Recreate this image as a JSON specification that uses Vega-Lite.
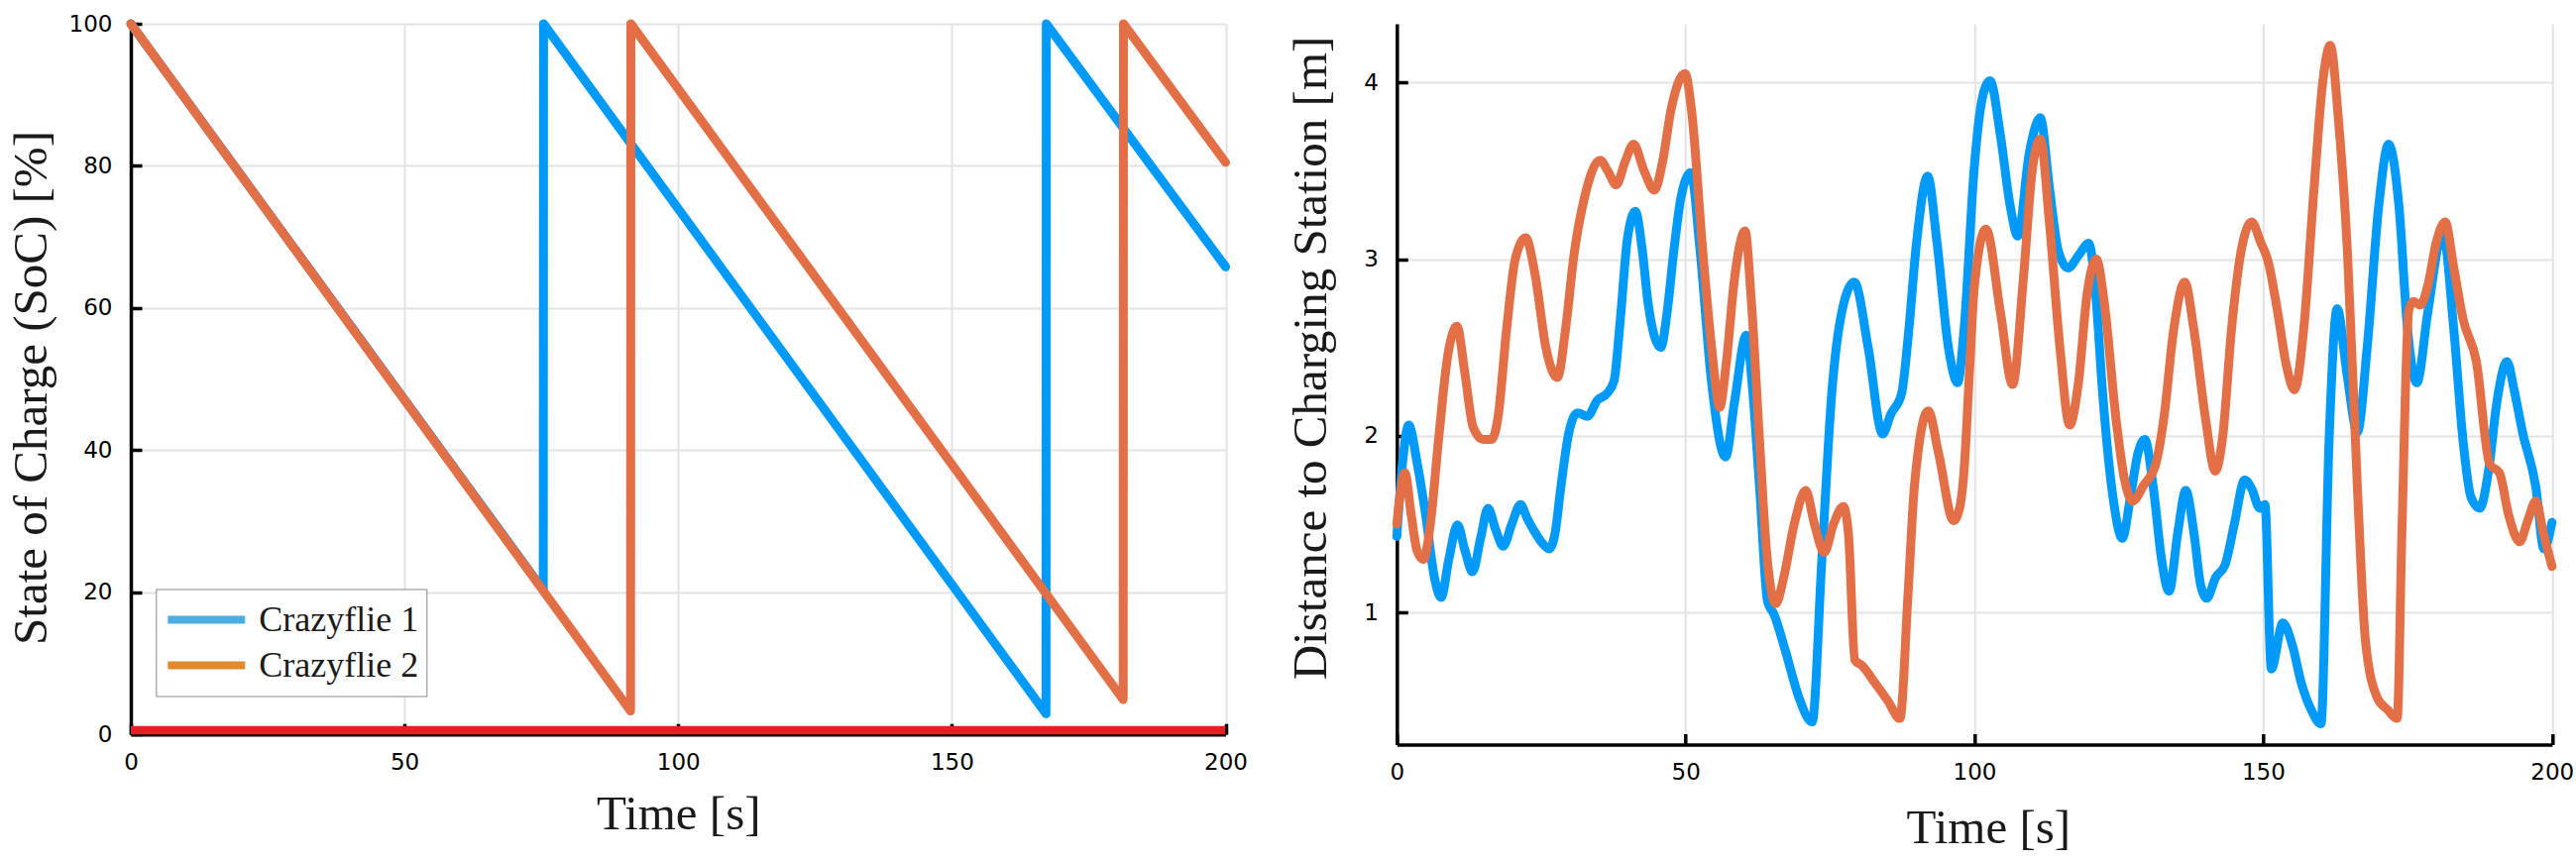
{
  "$schema": "https://vega.github.io/schema/vega-lite/v6.json",
  "padding": {"left": 6, "top": 13, "right": 0, "bottom": 0},
  "spacing": 172.3,
  "bounds": "flush",
  "background": "white",
  "datasets": {
    "thr": [{"soc": 0}],
    "soc": [
      {"t": 0, "soc": 100, "drone": "Crazyflie 1"},
      {"t": 75.35, "soc": 20.3, "drone": "Crazyflie 1"},
      {"t": 75.4, "soc": 100, "drone": "Crazyflie 1"},
      {"t": 167.2, "soc": 2.9, "drone": "Crazyflie 1"},
      {"t": 167.25, "soc": 100, "drone": "Crazyflie 1"},
      {"t": 200, "soc": 65.8, "drone": "Crazyflie 1"},
      {"t": 0, "soc": 100, "drone": "Crazyflie 2"},
      {"t": 91.3, "soc": 3.3, "drone": "Crazyflie 2"},
      {"t": 91.35, "soc": 100, "drone": "Crazyflie 2"},
      {"t": 181.3, "soc": 4.9, "drone": "Crazyflie 2"},
      {"t": 181.35, "soc": 100, "drone": "Crazyflie 2"},
      {"t": 200, "soc": 80.5, "drone": "Crazyflie 2"}
    ],
    "dist": [
      {"t": 0, "d": 1.43, "drone": "Crazyflie 1"},
      {"t": 1.0, "d": 1.85, "drone": "Crazyflie 1"},
      {"t": 2.06, "d": 2.06, "drone": "Crazyflie 1"},
      {"t": 3.5, "d": 1.85, "drone": "Crazyflie 1"},
      {"t": 5.0, "d": 1.55, "drone": "Crazyflie 1"},
      {"t": 6.5, "d": 1.2, "drone": "Crazyflie 1"},
      {"t": 7.67, "d": 1.085, "drone": "Crazyflie 1"},
      {"t": 9.0, "d": 1.3, "drone": "Crazyflie 1"},
      {"t": 10.5, "d": 1.495, "drone": "Crazyflie 1"},
      {"t": 11.8, "d": 1.35, "drone": "Crazyflie 1"},
      {"t": 13.1, "d": 1.23, "drone": "Crazyflie 1"},
      {"t": 14.5, "d": 1.42, "drone": "Crazyflie 1"},
      {"t": 15.8, "d": 1.59, "drone": "Crazyflie 1"},
      {"t": 17.1, "d": 1.47, "drone": "Crazyflie 1"},
      {"t": 18.4, "d": 1.375, "drone": "Crazyflie 1"},
      {"t": 19.9, "d": 1.5, "drone": "Crazyflie 1"},
      {"t": 21.4, "d": 1.61, "drone": "Crazyflie 1"},
      {"t": 22.6, "d": 1.53, "drone": "Crazyflie 1"},
      {"t": 23.8, "d": 1.46, "drone": "Crazyflie 1"},
      {"t": 25.0, "d": 1.4, "drone": "Crazyflie 1"},
      {"t": 26.4, "d": 1.36, "drone": "Crazyflie 1"},
      {"t": 27.4, "d": 1.45, "drone": "Crazyflie 1"},
      {"t": 28.4, "d": 1.71, "drone": "Crazyflie 1"},
      {"t": 29.8, "d": 2.02, "drone": "Crazyflie 1"},
      {"t": 31.3, "d": 2.13, "drone": "Crazyflie 1"},
      {"t": 33.0, "d": 2.11, "drone": "Crazyflie 1"},
      {"t": 34.7, "d": 2.2, "drone": "Crazyflie 1"},
      {"t": 36.4, "d": 2.24, "drone": "Crazyflie 1"},
      {"t": 37.6, "d": 2.31, "drone": "Crazyflie 1"},
      {"t": 38.7, "d": 2.66, "drone": "Crazyflie 1"},
      {"t": 39.9, "d": 3.11, "drone": "Crazyflie 1"},
      {"t": 41.3, "d": 3.27, "drone": "Crazyflie 1"},
      {"t": 42.5, "d": 3.05, "drone": "Crazyflie 1"},
      {"t": 43.5, "d": 2.75, "drone": "Crazyflie 1"},
      {"t": 45.7, "d": 2.5, "drone": "Crazyflie 1"},
      {"t": 46.8, "d": 2.7, "drone": "Crazyflie 1"},
      {"t": 47.9, "d": 3.03, "drone": "Crazyflie 1"},
      {"t": 49.2, "d": 3.35, "drone": "Crazyflie 1"},
      {"t": 50.9, "d": 3.49, "drone": "Crazyflie 1"},
      {"t": 52.5, "d": 3.05, "drone": "Crazyflie 1"},
      {"t": 54.5, "d": 2.3, "drone": "Crazyflie 1"},
      {"t": 56.9, "d": 1.88, "drone": "Crazyflie 1"},
      {"t": 58.5, "d": 2.2, "drone": "Crazyflie 1"},
      {"t": 60.5, "d": 2.57, "drone": "Crazyflie 1"},
      {"t": 61.5, "d": 2.3, "drone": "Crazyflie 1"},
      {"t": 62.8, "d": 1.71, "drone": "Crazyflie 1"},
      {"t": 64.2, "d": 1.06, "drone": "Crazyflie 1"},
      {"t": 65.3, "d": 0.99, "drone": "Crazyflie 1"},
      {"t": 67.3, "d": 0.78, "drone": "Crazyflie 1"},
      {"t": 69.6, "d": 0.52, "drone": "Crazyflie 1"},
      {"t": 71.9, "d": 0.38, "drone": "Crazyflie 1"},
      {"t": 73.6, "d": 1.31, "drone": "Crazyflie 1"},
      {"t": 75.3, "d": 2.24, "drone": "Crazyflie 1"},
      {"t": 77.1, "d": 2.71, "drone": "Crazyflie 1"},
      {"t": 79.2, "d": 2.87, "drone": "Crazyflie 1"},
      {"t": 81.6, "d": 2.5, "drone": "Crazyflie 1"},
      {"t": 84.1, "d": 2.01, "drone": "Crazyflie 1"},
      {"t": 85.5, "d": 2.12, "drone": "Crazyflie 1"},
      {"t": 87.4, "d": 2.24, "drone": "Crazyflie 1"},
      {"t": 88.5, "d": 2.55, "drone": "Crazyflie 1"},
      {"t": 90.0, "d": 3.1, "drone": "Crazyflie 1"},
      {"t": 91.9, "d": 3.47, "drone": "Crazyflie 1"},
      {"t": 93.5, "d": 3.1, "drone": "Crazyflie 1"},
      {"t": 95.5, "d": 2.5, "drone": "Crazyflie 1"},
      {"t": 97.1, "d": 2.3, "drone": "Crazyflie 1"},
      {"t": 98.2, "d": 2.6, "drone": "Crazyflie 1"},
      {"t": 100, "d": 3.53, "drone": "Crazyflie 1"},
      {"t": 101.3, "d": 3.9, "drone": "Crazyflie 1"},
      {"t": 102.7, "d": 4.01, "drone": "Crazyflie 1"},
      {"t": 104.5, "d": 3.7, "drone": "Crazyflie 1"},
      {"t": 106.2, "d": 3.3, "drone": "Crazyflie 1"},
      {"t": 107.5, "d": 3.13, "drone": "Crazyflie 1"},
      {"t": 109.5, "d": 3.6, "drone": "Crazyflie 1"},
      {"t": 111.4, "d": 3.8, "drone": "Crazyflie 1"},
      {"t": 113, "d": 3.4, "drone": "Crazyflie 1"},
      {"t": 114.5, "d": 3.05, "drone": "Crazyflie 1"},
      {"t": 116.2, "d": 2.95, "drone": "Crazyflie 1"},
      {"t": 118, "d": 3.02, "drone": "Crazyflie 1"},
      {"t": 119.8, "d": 3.09, "drone": "Crazyflie 1"},
      {"t": 121, "d": 2.8, "drone": "Crazyflie 1"},
      {"t": 122.2, "d": 2.24, "drone": "Crazyflie 1"},
      {"t": 124, "d": 1.65, "drone": "Crazyflie 1"},
      {"t": 125.6, "d": 1.42, "drone": "Crazyflie 1"},
      {"t": 127, "d": 1.65, "drone": "Crazyflie 1"},
      {"t": 128.3, "d": 1.9, "drone": "Crazyflie 1"},
      {"t": 129.5, "d": 1.98, "drone": "Crazyflie 1"},
      {"t": 131, "d": 1.7, "drone": "Crazyflie 1"},
      {"t": 132.4, "d": 1.3, "drone": "Crazyflie 1"},
      {"t": 133.7, "d": 1.12, "drone": "Crazyflie 1"},
      {"t": 135.2, "d": 1.45, "drone": "Crazyflie 1"},
      {"t": 136.6, "d": 1.69, "drone": "Crazyflie 1"},
      {"t": 138, "d": 1.45, "drone": "Crazyflie 1"},
      {"t": 139.2, "d": 1.15, "drone": "Crazyflie 1"},
      {"t": 140.2, "d": 1.08, "drone": "Crazyflie 1"},
      {"t": 141.8, "d": 1.2, "drone": "Crazyflie 1"},
      {"t": 143.4, "d": 1.27, "drone": "Crazyflie 1"},
      {"t": 145, "d": 1.5, "drone": "Crazyflie 1"},
      {"t": 146.8, "d": 1.75, "drone": "Crazyflie 1"},
      {"t": 148, "d": 1.7, "drone": "Crazyflie 1"},
      {"t": 149.4, "d": 1.59, "drone": "Crazyflie 1"},
      {"t": 150.3, "d": 1.61, "drone": "Crazyflie 1"},
      {"t": 151.4, "d": 0.68, "drone": "Crazyflie 1"},
      {"t": 153.4, "d": 0.94, "drone": "Crazyflie 1"},
      {"t": 155, "d": 0.82, "drone": "Crazyflie 1"},
      {"t": 156.6, "d": 0.6, "drone": "Crazyflie 1"},
      {"t": 158.3, "d": 0.45, "drone": "Crazyflie 1"},
      {"t": 160, "d": 0.37, "drone": "Crazyflie 1"},
      {"t": 161.4, "d": 1.97, "drone": "Crazyflie 1"},
      {"t": 162.8, "d": 2.72, "drone": "Crazyflie 1"},
      {"t": 164.5, "d": 2.35, "drone": "Crazyflie 1"},
      {"t": 166.3, "d": 2.02, "drone": "Crazyflie 1"},
      {"t": 168, "d": 2.5, "drone": "Crazyflie 1"},
      {"t": 170, "d": 3.3, "drone": "Crazyflie 1"},
      {"t": 171.7, "d": 3.65, "drone": "Crazyflie 1"},
      {"t": 173.5, "d": 3.3, "drone": "Crazyflie 1"},
      {"t": 175, "d": 2.6, "drone": "Crazyflie 1"},
      {"t": 176.6, "d": 2.3, "drone": "Crazyflie 1"},
      {"t": 178.5, "d": 2.7, "drone": "Crazyflie 1"},
      {"t": 181.1, "d": 3.15, "drone": "Crazyflie 1"},
      {"t": 183, "d": 2.6, "drone": "Crazyflie 1"},
      {"t": 184.6, "d": 1.97, "drone": "Crazyflie 1"},
      {"t": 186, "d": 1.65, "drone": "Crazyflie 1"},
      {"t": 187.5, "d": 1.59, "drone": "Crazyflie 1"},
      {"t": 189, "d": 1.8, "drone": "Crazyflie 1"},
      {"t": 190.5, "d": 2.2, "drone": "Crazyflie 1"},
      {"t": 192.2, "d": 2.42, "drone": "Crazyflie 1"},
      {"t": 193.5, "d": 2.25, "drone": "Crazyflie 1"},
      {"t": 194.9, "d": 2.02, "drone": "Crazyflie 1"},
      {"t": 197.2, "d": 1.71, "drone": "Crazyflie 1"},
      {"t": 198.6, "d": 1.36, "drone": "Crazyflie 1"},
      {"t": 200, "d": 1.51, "drone": "Crazyflie 1"},
      {"t": 0, "d": 1.5, "drone": "Crazyflie 2"},
      {"t": 0.5, "d": 1.65, "drone": "Crazyflie 2"},
      {"t": 1.4, "d": 1.79, "drone": "Crazyflie 2"},
      {"t": 2.5, "d": 1.55, "drone": "Crazyflie 2"},
      {"t": 3.5, "d": 1.35, "drone": "Crazyflie 2"},
      {"t": 4.6, "d": 1.3, "drone": "Crazyflie 2"},
      {"t": 5.8, "d": 1.5, "drone": "Crazyflie 2"},
      {"t": 7.2, "d": 1.97, "drone": "Crazyflie 2"},
      {"t": 8.8, "d": 2.45, "drone": "Crazyflie 2"},
      {"t": 10.4, "d": 2.62, "drone": "Crazyflie 2"},
      {"t": 11.8, "d": 2.35, "drone": "Crazyflie 2"},
      {"t": 13.2, "d": 2.05, "drone": "Crazyflie 2"},
      {"t": 14.9, "d": 1.98, "drone": "Crazyflie 2"},
      {"t": 16.4, "d": 1.98, "drone": "Crazyflie 2"},
      {"t": 17.5, "d": 2.1, "drone": "Crazyflie 2"},
      {"t": 19, "d": 2.6, "drone": "Crazyflie 2"},
      {"t": 20.5, "d": 3.0, "drone": "Crazyflie 2"},
      {"t": 22.3, "d": 3.12, "drone": "Crazyflie 2"},
      {"t": 24, "d": 2.9, "drone": "Crazyflie 2"},
      {"t": 25.8, "d": 2.5, "drone": "Crazyflie 2"},
      {"t": 27.8, "d": 2.33, "drone": "Crazyflie 2"},
      {"t": 29.2, "d": 2.6, "drone": "Crazyflie 2"},
      {"t": 30.7, "d": 3.03, "drone": "Crazyflie 2"},
      {"t": 32.5, "d": 3.35, "drone": "Crazyflie 2"},
      {"t": 35.2, "d": 3.56, "drone": "Crazyflie 2"},
      {"t": 36.5, "d": 3.5, "drone": "Crazyflie 2"},
      {"t": 38, "d": 3.42, "drone": "Crazyflie 2"},
      {"t": 39.5, "d": 3.55, "drone": "Crazyflie 2"},
      {"t": 41, "d": 3.65, "drone": "Crazyflie 2"},
      {"t": 42.8, "d": 3.5, "drone": "Crazyflie 2"},
      {"t": 44.6, "d": 3.39, "drone": "Crazyflie 2"},
      {"t": 46, "d": 3.55, "drone": "Crazyflie 2"},
      {"t": 47.5, "d": 3.85, "drone": "Crazyflie 2"},
      {"t": 49.9, "d": 4.05, "drone": "Crazyflie 2"},
      {"t": 51, "d": 3.85, "drone": "Crazyflie 2"},
      {"t": 53, "d": 3.03, "drone": "Crazyflie 2"},
      {"t": 54.5, "d": 2.5, "drone": "Crazyflie 2"},
      {"t": 55.9, "d": 2.16, "drone": "Crazyflie 2"},
      {"t": 57, "d": 2.4, "drone": "Crazyflie 2"},
      {"t": 58.5, "d": 2.9, "drone": "Crazyflie 2"},
      {"t": 60.3, "d": 3.16, "drone": "Crazyflie 2"},
      {"t": 61.3, "d": 2.8, "drone": "Crazyflie 2"},
      {"t": 62.8, "d": 1.97, "drone": "Crazyflie 2"},
      {"t": 64, "d": 1.35, "drone": "Crazyflie 2"},
      {"t": 65.6, "d": 1.05, "drone": "Crazyflie 2"},
      {"t": 67, "d": 1.2, "drone": "Crazyflie 2"},
      {"t": 68.8, "d": 1.5, "drone": "Crazyflie 2"},
      {"t": 70.8, "d": 1.69, "drone": "Crazyflie 2"},
      {"t": 72.3, "d": 1.5, "drone": "Crazyflie 2"},
      {"t": 74, "d": 1.34, "drone": "Crazyflie 2"},
      {"t": 75.6, "d": 1.5, "drone": "Crazyflie 2"},
      {"t": 77.3, "d": 1.6, "drone": "Crazyflie 2"},
      {"t": 78.2, "d": 1.44, "drone": "Crazyflie 2"},
      {"t": 79.3, "d": 0.73, "drone": "Crazyflie 2"},
      {"t": 80.5, "d": 0.7, "drone": "Crazyflie 2"},
      {"t": 82.8, "d": 0.6, "drone": "Crazyflie 2"},
      {"t": 85, "d": 0.5, "drone": "Crazyflie 2"},
      {"t": 87.1, "d": 0.4, "drone": "Crazyflie 2"},
      {"t": 88.5, "d": 1.1, "drone": "Crazyflie 2"},
      {"t": 89.6, "d": 1.71, "drone": "Crazyflie 2"},
      {"t": 92, "d": 2.14, "drone": "Crazyflie 2"},
      {"t": 93.8, "d": 1.9, "drone": "Crazyflie 2"},
      {"t": 96.4, "d": 1.52, "drone": "Crazyflie 2"},
      {"t": 97.5, "d": 1.6, "drone": "Crazyflie 2"},
      {"t": 98.2, "d": 1.8, "drone": "Crazyflie 2"},
      {"t": 99.2, "d": 2.4, "drone": "Crazyflie 2"},
      {"t": 100, "d": 2.85, "drone": "Crazyflie 2"},
      {"t": 102, "d": 3.17, "drone": "Crazyflie 2"},
      {"t": 104.5, "d": 2.7, "drone": "Crazyflie 2"},
      {"t": 106.6, "d": 2.29, "drone": "Crazyflie 2"},
      {"t": 108.5, "d": 2.9, "drone": "Crazyflie 2"},
      {"t": 110, "d": 3.5, "drone": "Crazyflie 2"},
      {"t": 111.4, "d": 3.68, "drone": "Crazyflie 2"},
      {"t": 113, "d": 3.2, "drone": "Crazyflie 2"},
      {"t": 114.8, "d": 2.5, "drone": "Crazyflie 2"},
      {"t": 116.5, "d": 2.06, "drone": "Crazyflie 2"},
      {"t": 118, "d": 2.3, "drone": "Crazyflie 2"},
      {"t": 119.5, "d": 2.8, "drone": "Crazyflie 2"},
      {"t": 121.1, "d": 3.0, "drone": "Crazyflie 2"},
      {"t": 122.5, "d": 2.75, "drone": "Crazyflie 2"},
      {"t": 124.5, "d": 2.1, "drone": "Crazyflie 2"},
      {"t": 126, "d": 1.75, "drone": "Crazyflie 2"},
      {"t": 127.4, "d": 1.63, "drone": "Crazyflie 2"},
      {"t": 129.3, "d": 1.72, "drone": "Crazyflie 2"},
      {"t": 131.4, "d": 1.84, "drone": "Crazyflie 2"},
      {"t": 132.8, "d": 2.1, "drone": "Crazyflie 2"},
      {"t": 134.5, "d": 2.6, "drone": "Crazyflie 2"},
      {"t": 136.4, "d": 2.87, "drone": "Crazyflie 2"},
      {"t": 138, "d": 2.6, "drone": "Crazyflie 2"},
      {"t": 140, "d": 2.1, "drone": "Crazyflie 2"},
      {"t": 141.7, "d": 1.8, "drone": "Crazyflie 2"},
      {"t": 143, "d": 2.0, "drone": "Crazyflie 2"},
      {"t": 144.5, "d": 2.6, "drone": "Crazyflie 2"},
      {"t": 146.2, "d": 3.05, "drone": "Crazyflie 2"},
      {"t": 148, "d": 3.21, "drone": "Crazyflie 2"},
      {"t": 149.5, "d": 3.1, "drone": "Crazyflie 2"},
      {"t": 150.9, "d": 2.98, "drone": "Crazyflie 2"},
      {"t": 152.5, "d": 2.7, "drone": "Crazyflie 2"},
      {"t": 154, "d": 2.4, "drone": "Crazyflie 2"},
      {"t": 155.4, "d": 2.26, "drone": "Crazyflie 2"},
      {"t": 157, "d": 2.6, "drone": "Crazyflie 2"},
      {"t": 158.8, "d": 3.4, "drone": "Crazyflie 2"},
      {"t": 160.3, "d": 4.0, "drone": "Crazyflie 2"},
      {"t": 161.6, "d": 4.21, "drone": "Crazyflie 2"},
      {"t": 163, "d": 3.8, "drone": "Crazyflie 2"},
      {"t": 164.6, "d": 3.03, "drone": "Crazyflie 2"},
      {"t": 166.3, "d": 1.71, "drone": "Crazyflie 2"},
      {"t": 167.7, "d": 0.84, "drone": "Crazyflie 2"},
      {"t": 169.7, "d": 0.52, "drone": "Crazyflie 2"},
      {"t": 171.5, "d": 0.45, "drone": "Crazyflie 2"},
      {"t": 173.2, "d": 0.4, "drone": "Crazyflie 2"},
      {"t": 174, "d": 1.44, "drone": "Crazyflie 2"},
      {"t": 175.2, "d": 2.71, "drone": "Crazyflie 2"},
      {"t": 176, "d": 2.76, "drone": "Crazyflie 2"},
      {"t": 177.2, "d": 2.74, "drone": "Crazyflie 2"},
      {"t": 178.5, "d": 2.85, "drone": "Crazyflie 2"},
      {"t": 180, "d": 3.1, "drone": "Crazyflie 2"},
      {"t": 181.5, "d": 3.21, "drone": "Crazyflie 2"},
      {"t": 183, "d": 2.95, "drone": "Crazyflie 2"},
      {"t": 184.6, "d": 2.66, "drone": "Crazyflie 2"},
      {"t": 186.9, "d": 2.42, "drone": "Crazyflie 2"},
      {"t": 189.2, "d": 1.84, "drone": "Crazyflie 2"},
      {"t": 190.9, "d": 1.79, "drone": "Crazyflie 2"},
      {"t": 192.5, "d": 1.55, "drone": "Crazyflie 2"},
      {"t": 194.4, "d": 1.4, "drone": "Crazyflie 2"},
      {"t": 195.8, "d": 1.52, "drone": "Crazyflie 2"},
      {"t": 197.2, "d": 1.63, "drone": "Crazyflie 2"},
      {"t": 198.5, "d": 1.45, "drone": "Crazyflie 2"},
      {"t": 200, "d": 1.26, "drone": "Crazyflie 2"}
    ]
  },
  "hconcat": [
    {
      "width": 1104.5,
      "height": 717.2,
      "layer": [
        {
          "data": {"name": "soc"},
          "mark": {"type": "line", "strokeWidth": 9, "opacity": 0},
          "encoding": {
            "x": {"field": "t", "type": "quantitative", "scale": {"domain": [0, 200], "nice": false},
              "axis": {"values": [0, 50, 100, 150, 200], "title": "Time [s]", "titleX": 552.25, "titleY": 95, "titleBaseline": "alphabetic", "titleAlign": "center", "labelPadding": 28}},
            "y": {"field": "soc", "type": "quantitative", "scale": {"domain": [0, 100], "nice": false},
              "axis": {"values": [0, 20, 40, 60, 80, 100], "title": "State of Charge (SoC) [%]", "titleX": -76, "titleY": 367, "titleAngle": 270, "titleBaseline": "bottom", "titleAlign": "center", "labelPadding": 30}},
            "color": {"field": "drone", "type": "nominal",
              "scale": {"domain": ["Crazyflie 1", "Crazyflie 2"], "range": ["#4aaee2", "#e38b2c"]},
              "legend": {"orient": "none", "legendX": 25.3, "legendY": 570.5, "direction": "vertical", "title": null,
                "symbolType": "stroke", "symbolSize": 6084, "symbolStrokeWidth": 8, "clipHeight": 46, "rowPadding": 0,
                "padding": 8, "labelOffset": 10, "labelFont": "Liberation Serif", "labelFontSize": 36, "labelColor": "#1a1a1a",
                "labelLimit": 400, "strokeColor": "#888888", "fillColor": "white", "symbolOpacity": 1}}
          }
        },
        {
          "data": {"name": "soc"},
          "mark": {"type": "line", "strokeWidth": 9, "strokeJoin": "round", "strokeCap": "round"},
          "encoding": {
            "x": {"field": "t", "type": "quantitative"},
            "y": {"field": "soc", "type": "quantitative"},
            "stroke": {"field": "drone", "type": "nominal",
              "scale": {"domain": ["Crazyflie 1", "Crazyflie 2"], "range": ["#009af9", "#e26f46"]},
              "legend": null}
          }
        },
        {
          "data": {"name": "thr"},
          "mark": {"type": "rule", "color": "#eb1c24", "strokeWidth": 17, "clip": true},
          "encoding": {
            "y": {"field": "soc", "type": "quantitative"}
          }
        }
      ]
    },
    {
      "width": 1165.5,
      "height": 727.5,
      "data": {"name": "dist"},
      "mark": {"type": "line", "interpolate": "monotone", "strokeWidth": 9, "strokeJoin": "round", "strokeCap": "round"},
      "encoding": {
        "x": {"field": "t", "type": "quantitative", "scale": {"domain": [0, 200], "nice": false},
          "axis": {"values": [0, 50, 100, 150, 200], "title": "Time [s]", "titleX": 596.5, "titleY": 99, "titleBaseline": "alphabetic", "titleAlign": "center", "labelPadding": 28}},
        "y": {"field": "d", "type": "quantitative", "scale": {"domain": [0.252, 4.332], "nice": false, "zero": false},
          "axis": {"values": [1, 2, 3, 4], "title": "Distance to Charging Station [m]", "titleX": -62, "titleY": 337, "titleAngle": 270, "titleBaseline": "bottom", "titleAlign": "center", "labelPadding": 30}},
        "stroke": {"field": "drone", "type": "nominal",
          "scale": {"domain": ["Crazyflie 1", "Crazyflie 2"], "range": ["#009af9", "#e26f46"]},
          "legend": null}
      }
    }
  ],
  "resolve": {"scale": {"x": "independent", "y": "independent"}, "legend": {"color": "independent", "stroke": "independent"}},
  "config": {
    "view": {"stroke": null},
    "axis": {
      "domainColor": "#000000", "domainWidth": 3.5, "tickColor": "#000000", "tickWidth": 3.5, "tickSize": -11,
      "labelFont": "DejaVu Sans", "labelFontSize": 23, "labelColor": "#000000",
      "gridColor": "#e3e3e3", "gridWidth": 2,
      "titleFont": "Liberation Serif", "titleFontSize": 49, "titleFontWeight": "normal", "titleColor": "#1a1a1a",
      "labelFlush": false, "labelOverlap": false
    }
  }
}
